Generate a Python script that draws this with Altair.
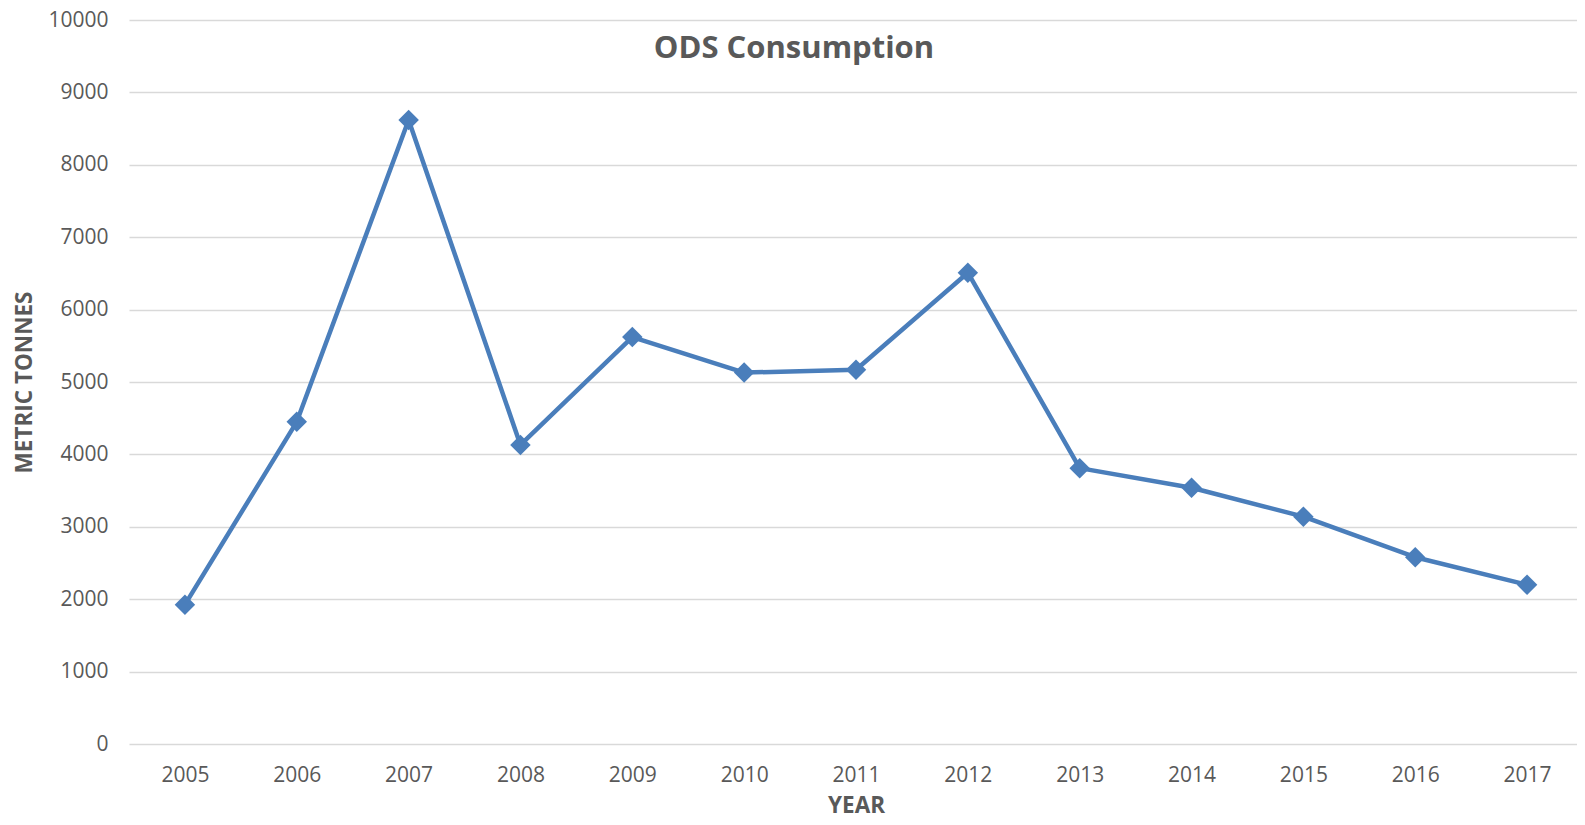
import altair as alt
import pandas as pd

years = ["2005", "2006", "2007", "2008", "2009", "2010", "2011",
         "2012", "2013", "2014", "2015", "2016", "2017"]
tonnes = [1925, 4450, 8620, 4130, 5620, 5130, 5170,
          6510, 3810, 3540, 3140, 2580, 2200]
y_ticks = [0, 1000, 2000, 3000, 4000, 5000, 6000, 7000, 8000, 9000, 10000]
chart_title = ["ODS Consumption"]

df = pd.DataFrame({"year": years, "tonnes": tonnes})

GRAY = "#595959"
BLUE = "#4A7EBB"
FONT = "Open Sans"

line = alt.Chart(df).mark_line(
    color=BLUE, strokeWidth=4.5, strokeJoin="round",
    point=alt.OverlayMarkDef(shape="diamond", size=420, filled=True, color=BLUE, opacity=1),
).encode(
    x=alt.X("year:O", sort=years,
            scale=alt.Scale(type="point", padding=0.5),
            axis=alt.Axis(title="YEAR", labelAngle=0, ticks=False, domain=False,
                          grid=False, labelPadding=20, titlePadding=9)),
    y=alt.Y("tonnes:Q", scale=alt.Scale(domain=[0, 10000], nice=False),
            axis=alt.Axis(title="METRIC TONNES", values=y_ticks, format="d", ticks=False,
                          domain=False, grid=True, labelPadding=21, titlePadding=11)),
)

title = alt.Chart(pd.DataFrame({"t": chart_title})).mark_text(
    font=FONT, fontSize=31, fontWeight="bold", color=GRAY,
    align="center", baseline="middle",
).encode(text="t:N", x=alt.value(665), y=alt.value(28.5))

chart = alt.layer(line, title).properties(
    width=1454,
    height=724,
    autosize=alt.AutoSizeParams(type="none"),
    padding={"left": 121, "top": 12, "right": -6, "bottom": 73},
).configure_view(
    stroke=None
).configure_axis(
    labelFont=FONT, labelFontSize=21, labelColor=GRAY,
    titleFont=FONT, titleFontSize=22.5, titleFontWeight="bold", titleColor=GRAY,
    gridColor="#D9D9D9", gridWidth=1.3,
)

chart.save("out.html", embed_options={"renderer": "svg", "actions": False})
